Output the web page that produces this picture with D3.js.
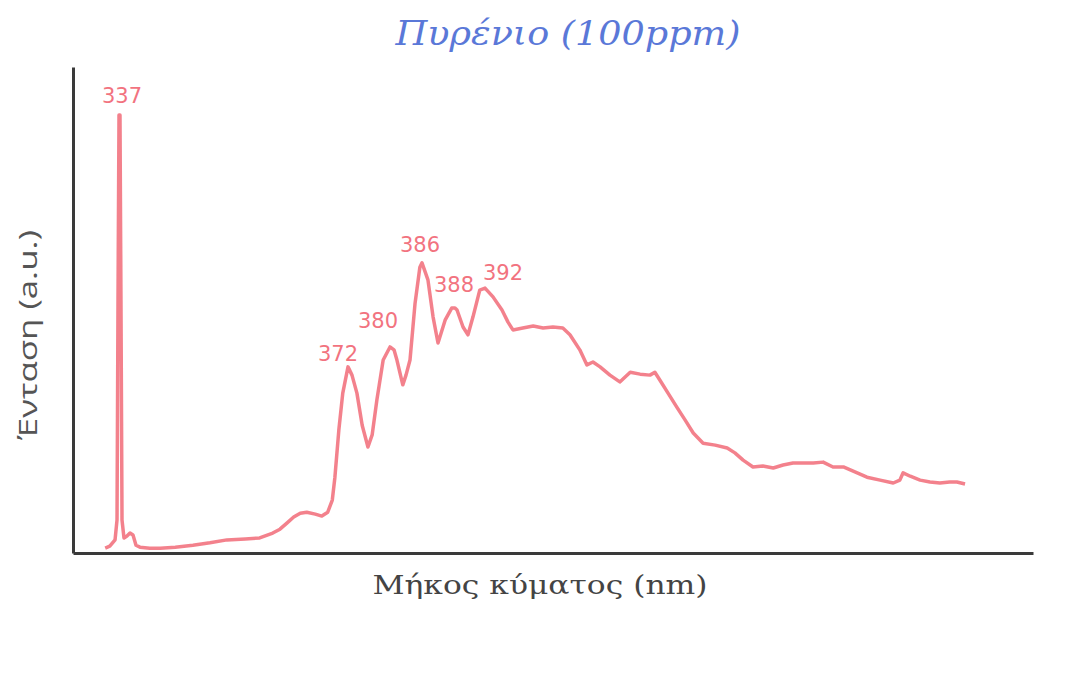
<!DOCTYPE html>
<html>
<head>
<meta charset="utf-8">
<script src="https://cdn.jsdelivr.net/npm/d3@7"></script>
<style>
  body { margin: 0; background: #fff; }
  svg { display: block; }
</style>
</head>
<body>
<svg id="chart" width="1078" height="687"></svg>
<script>
// Spectrum data: wavelength (nm) and intensity (a.u.)
const wavelengths = [
  334.9, 335.6, 336.4, 336.7, 336.85, 337.0, 337.15, 337.3, 337.46, 337.76,
  338.22, 338.68, 339.14, 339.6, 340.2, 341.7, 343.3, 345.6, 348.3, 350.9,
  353.5, 356.3, 358.5, 360.5, 361.6, 362.7, 363.7, 364.7, 365.7, 367.0,
  368.0, 368.9, 369.6, 370.0, 370.6, 371.2, 372.0, 372.76, 373.7, 374.7,
  375.8, 376.6, 377.5, 378.7, 380.0, 380.75, 381.3, 382.4, 383.0, 383.75,
  384.7, 385.6, 386.0, 386.36, 386.67, 386.97, 387.4, 387.8, 388.0, 388.27,
  389.07, 389.73, 390.4, 391.3, 392.0, 393.46, 395.1, 396.2, 397.1, 398.9,
  400.8, 402.6, 404.4, 406.2, 407.5, 409.3, 410.6, 411.7, 413.0, 414.8,
  416.6, 418.5, 420.3, 422.1, 423.0, 423.9, 425.4, 427.0, 428.5, 430.0,
  431.8, 434.0, 436.2, 437.6, 439.1, 440.9, 442.7, 444.6, 446.4, 448.2,
  450.0, 451.9, 453.7, 455.5, 457.4, 459.5, 461.7, 464.1, 466.5, 467.7,
  468.3, 469.6, 471.4, 473.2, 475.0, 476.8, 478.1, 479.6
];
const intensities = [
  1.0, 1.4, 2.7, 6.8, 52.1, 90.1, 90.1, 52.1, 6.8, 3.1,
  3.5, 4.1, 3.7, 1.6, 1.2, 1.0, 1.0, 1.2, 1.6, 2.1,
  2.7, 2.9, 3.1, 4.1, 4.9, 6.2, 7.4, 8.2, 8.4, 8.0,
  7.6, 8.4, 10.9, 15.6, 25.3, 32.9, 38.3, 36.6, 32.9, 26.3,
  21.8, 24.3, 31.5, 39.7, 42.4, 41.8, 39.7, 34.6, 36.6, 39.7,
  51.4, 58.8, 59.7, 56.2, 48.6, 43.2, 47.9, 50.4, 50.4, 50.0,
  46.5, 44.9, 48.6, 54.1, 54.5, 52.7, 50.0, 47.5, 45.9, 46.3,
  46.7, 46.3, 46.5, 46.3, 44.9, 41.8, 38.7, 39.3, 38.3, 36.6,
  35.2, 37.2, 36.8, 36.6, 37.2, 35.6, 32.9, 30.0, 27.4, 24.7,
  22.6, 22.2, 21.6, 20.6, 19.1, 17.7, 17.9, 17.5, 18.1, 18.5,
  18.5, 18.5, 18.7, 17.7, 17.7, 16.7, 15.6, 15.0, 14.4, 15.0,
  16.5, 15.8, 15.0, 14.6, 14.4, 14.6, 14.6, 14.2
];

// Labelled peaks
const peakLabels = ['337', '372', '380', '386', '388', '392'];
const peakWavelengths = [337, 372, 380, 386, 388, 392];
const peakIntensities = [90.1, 38.3, 42.4, 59.7, 50.4, 54.5];
// label offsets from the peak (px)
const labelDx = [3, -10, -12, -2, -1, 18];
const labelDy = [-12, -6, -19, -11, -16, -8];

const title = 'Πυρένιο (100ppm)';
const xTitle = 'Μήκος κύματος (nm)';
const yTitle = 'Ένταση (a.u.)';

const lineColor = '#f2737f';

const svg = d3.select('#chart');

// wavelength axis is not uniform in the original sketch, so use a piecewise scale
const x = d3.scaleLinear()
  .domain([330, 337, 372, 380, 386, 388, 392, 492])
  .range([73, 119, 348, 390, 422, 455, 485, 1033]);

const y = d3.scaleLinear()
  .domain([0, 100])
  .range([553, 67]);

const data = wavelengths.map((w, i) => ({ w, v: intensities[i] }));

// Spectrum line
const line = d3.line()
  .x((d) => x(d.w))
  .y((d) => y(d.v));

svg.append('path')
  .datum(data)
  .attr('d', line)
  .attr('fill', 'none')
  .attr('stroke', lineColor)
  .attr('stroke-width', 3.5)
  .attr('stroke-linejoin', 'round')
  .attr('opacity', 0.9);

// Axes (no ticks, just the lines)
svg.append('g')
  .attr('transform', `translate(${x(330)},0)`)
  .call(d3.axisLeft(y).ticks(0).tickSize(0).tickSizeOuter(0))
  .call((g) => g.select('.domain').attr('stroke', '#3a3a3a').attr('stroke-width', 3));

svg.append('g')
  .attr('transform', `translate(0,${y(0)})`)
  .call(d3.axisBottom(x).ticks(0).tickSize(0).tickSizeOuter(0))
  .call((g) => g.select('.domain').attr('stroke', '#3a3a3a').attr('stroke-width', 3));

// Peak labels
peakLabels.forEach((label, i) => {
  svg.append('text')
    .attr('x', x(peakWavelengths[i]) + labelDx[i])
    .attr('y', y(peakIntensities[i]) + labelDy[i])
    .attr('text-anchor', 'middle')
    .attr('font-family', 'DejaVu Sans, sans-serif')
    .attr('font-size', 21)
    .attr('fill', lineColor)
    .text(label);
});

// Title
svg.append('text')
  .attr('x', 568)
  .attr('y', 45)
  .attr('text-anchor', 'middle')
  .attr('font-family', 'DejaVu Serif, serif')
  .attr('font-style', 'italic')
  .attr('font-size', 33)
  .attr('fill', '#5a78d8')
  .attr('textLength', 345)
  .attr('lengthAdjust', 'spacingAndGlyphs')
  .text(title);

// Axis titles
svg.append('text')
  .attr('x', 540)
  .attr('y', 594)
  .attr('text-anchor', 'middle')
  .attr('font-family', 'DejaVu Serif, serif')
  .attr('font-size', 26)
  .attr('fill', '#444')
  .attr('textLength', 335)
  .attr('lengthAdjust', 'spacingAndGlyphs')
  .text(xTitle);

svg.append('text')
  .attr('transform', 'translate(37,335) rotate(-90)')
  .attr('text-anchor', 'middle')
  .attr('font-family', 'Open Sans, sans-serif')
  .attr('font-size', 25)
  .attr('fill', '#555')
  .attr('textLength', 210)
  .attr('lengthAdjust', 'spacingAndGlyphs')
  .text(yTitle);
</script>
</body>
</html>
